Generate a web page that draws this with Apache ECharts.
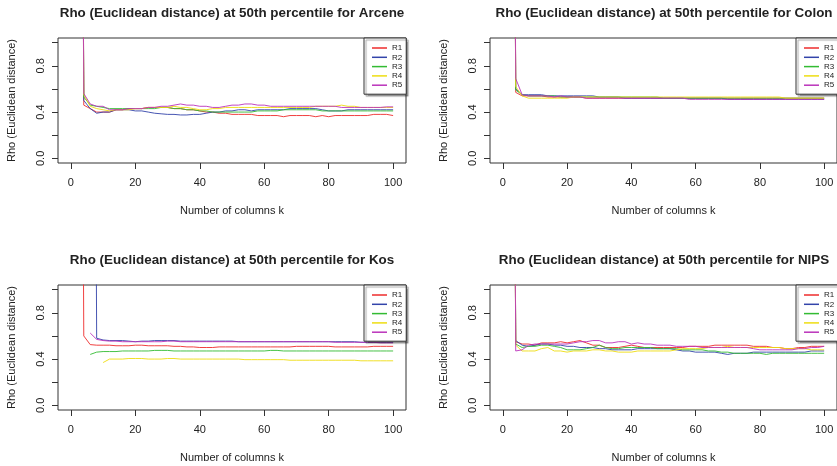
<!DOCTYPE html>
<html>
<head>
<meta charset="utf-8">
<script src="https://cdn.jsdelivr.net/npm/echarts@6/dist/echarts.min.js"></script>
<style>
html,body{margin:0;padding:0;background:#fff;}
#c{width:837px;height:466px;}
</style>
</head>
<body>
<div id="c"></div>
<script>
// Number of columns k
const K = [2,4,6,8,10,12,14,16,18,20,
           22,24,26,28,30,32,34,36,38,40,
           42,44,46,48,50,52,54,56,58,60,
           62,64,66,68,70,72,74,76,78,80,
           82,84,86,88,90,92,94,96,98,100];

const seriesNames = ['R1','R2','R3','R4','R5'];
const panelTitles = [
  'Rho (Euclidean distance) at 50th percentile for Arcene',
  'Rho (Euclidean distance) at 50th percentile for Colon',
  'Rho (Euclidean distance) at 50th percentile for Kos',
  'Rho (Euclidean distance) at 50th percentile for NIPS'
];
const xTicks = [0,20,40,60,80,100];
const yTicks = [0,0.2,0.4,0.6,0.8,1.0];
const yTickLabels = [0,0.4,0.8];

// ---- Arcene ----
const arceneR1 = [12,.46,.43,.40,.40,.40,.42,.42,.43,.43, .43,.44,.44,.44,.44,.43,.43,.42,.42,.41, .40,.40,.39,.39,.38,.38,.38,.38,.37,.37, .37,.37,.36,.37,.37,.37,.37,.36,.37,.36, .37,.37,.37,.37,.37,.37,.38,.38,.38,.37];
const arceneR2 = [12,.50,.43,.39,.40,.40,.42,.42,.42,.41, .41,.40,.39,.385,.38,.38,.375,.375,.38,.38, .39,.40,.40,.41,.41,.42,.42,.41,.42,.42, .42,.42,.42,.43,.43,.43,.43,.43,.42,.41, .41,.41,.42,.42,.42,.42,.42,.42,.42,.42];
const arceneR3 = [12,.53,.46,.45,.44,.43,.43,.43,.43,.43, .43,.43,.43,.44,.44,.43,.43,.42,.42,.41, .41,.40,.40,.40,.40,.40,.40,.40,.41,.41, .41,.41,.42,.42,.42,.42,.42,.42,.41,.41, .41,.41,.41,.41,.41,.41,.41,.41,.41,.41];
const arceneR4 = [12,.55,.45,.43,.42,.41,.42,.42,.42,.43, .43,.44,.44,.44,.44,.45,.44,.44,.43,.42, .42,.43,.43,.44,.44,.44,.44,.44,.44,.44, .44,.44,.44,.44,.44,.44,.44,.45,.45,.45, .45,.46,.45,.45,.44,.44,.44,.44,.44,.44];
const arceneR5 = [12,.56,.47,.45,.45,.42,.42,.42,.43,.43, .43,.44,.44,.45,.45,.46,.47,.46,.46,.45, .45,.44,.44,.45,.46,.46,.47,.47,.46,.46, .45,.45,.45,.45,.45,.45,.45,.45,.45,.45, .45,.44,.44,.44,.44,.44,.44,.44,.445,.445];

// ---- Colon ----
const colonR1 = [12,.57,.54,.54,.54,.54,.53,.53,.53,.53, .53,.53,.52,.52,.52,.52,.52,.52,.52,.52, .52,.52,.52,.52,.52,.52,.52,.52,.52,.52, .52,.52,.52,.52,.52,.52,.52,.52,.52,.52, .52,.52,.52,.52,.52,.52,.52,.52,.52,.52];
const colonR2 = [12,.60,.55,.55,.55,.55,.54,.54,.54,.54, .54,.54,.54,.54,.53,.53,.53,.53,.52,.52, .52,.52,.52,.52,.52,.52,.52,.52,.52,.52, .52,.52,.52,.52,.51,.51,.51,.51,.51,.51, .51,.51,.51,.51,.51,.51,.51,.51,.51,.51];
const colonR3 = [12,.59,.55,.54,.54,.54,.54,.54,.53,.53, .53,.53,.53,.53,.53,.53,.53,.53,.53,.53, .53,.53,.53,.53,.52,.52,.52,.52,.52,.52, .52,.52,.52,.52,.52,.52,.52,.52,.52,.52, .52,.52,.52,.52,.52,.52,.52,.52,.52,.52];
const colonR4 = [12,.62,.54,.52,.52,.52,.52,.52,.52,.52, .53,.53,.53,.53,.53,.53,.53,.53,.53,.53, .53,.53,.53,.53,.53,.53,.53,.53,.53,.53, .53,.53,.53,.53,.53,.53,.53,.53,.53,.53, .53,.53,.53,.52,.52,.52,.52,.52,.52,.52];
const colonR5 = [12,.69,.55,.54,.54,.54,.54,.53,.54,.53, .53,.53,.52,.52,.52,.52,.52,.52,.52,.52, .52,.52,.52,.52,.52,.52,.52,.52,.51,.51, .51,.51,.51,.51,.51,.51,.51,.51,.51,.51, .51,.51,.51,.51,.51,.51,.51,.51,.51,.51];

// ---- Kos ----
const kosR1 = [12,.60,.525,.52,.52,.52,.515,.515,.515,.52, .52,.515,.515,.515,.515,.51,.51,.505,.505,.50, .50,.50,.505,.505,.505,.505,.505,.505,.505,.505, .505,.505,.505,.505,.51,.51,.51,.51,.51,.51, .505,.505,.505,.505,.505,.505,.51,.51,.51,.51];
const kosR2 = [null,null,12,.58,.565,.56,.56,.56,.555,.55, .555,.555,.56,.56,.56,.56,.555,.555,.555,.555, .555,.555,.555,.555,.555,.55,.55,.55,.55,.55, .55,.55,.55,.55,.55,.55,.55,.55,.55,.55, .55,.55,.55,.55,.545,.545,.545,.545,.545,.545];
const kosR3 = [null,null,.44,.46,.465,.465,.465,.47,.47,.47, .47,.47,.475,.475,.475,.47,.47,.47,.47,.47, .47,.47,.47,.47,.47,.47,.47,.47,.47,.47, .475,.475,.47,.47,.47,.47,.47,.47,.47,.47, .47,.47,.47,.47,.47,.47,.47,.47,.47,.47];
const kosR4 = [null,null,null,null,.37,.40,.40,.40,.405,.405, .405,.40,.40,.40,.405,.405,.40,.40,.40,.40, .40,.40,.40,.40,.40,.40,.395,.395,.395,.395, .395,.395,.395,.39,.39,.39,.39,.39,.39,.39, .39,.39,.39,.39,.385,.385,.385,.385,.385,.385];
const kosR5 = [null,null,.625,.57,.56,.555,.555,.55,.55,.55, .55,.55,.55,.55,.555,.555,.55,.55,.55,.55, .55,.55,.55,.55,.55,.55,.55,.55,.55,.55, .55,.55,.55,.55,.55,.55,.55,.55,.55,.55, .545,.545,.545,.545,.545,.545,.545,.54,.54,.54];

// ---- NIPS ----
const nipsR1 = [12,.55,.53,.53,.52,.54,.54,.54,.55,.54, .55,.56,.54,.52,.52,.50,.50,.50,.51,.52, .51,.50,.50,.50,.50,.50,.50,.50,.51,.51, .51,.51,.52,.52,.52,.52,.52,.52,.51,.51, .51,.50,.50,.49,.49,.50,.50,.51,.51,.51];
const nipsR2 = [12,.56,.52,.51,.52,.53,.53,.52,.52,.51, .51,.50,.50,.50,.49,.49,.48,.48,.48,.48, .49,.49,.49,.49,.49,.49,.48,.47,.47,.46, .46,.46,.46,.45,.44,.45,.45,.45,.46,.46, .46,.46,.46,.46,.46,.46,.46,.47,.47,.47];
const nipsR3 = [12,.53,.50,.51,.51,.52,.52,.51,.50,.48, .48,.48,.49,.50,.52,.50,.49,.49,.50,.50, .50,.50,.50,.49,.49,.49,.49,.48,.48,.48, .48,.47,.47,.46,.46,.45,.45,.45,.45,.45, .44,.45,.45,.45,.45,.45,.45,.45,.45,.45];
const nipsR4 = [12,.52,.47,.47,.47,.49,.50,.47,.47,.46, .47,.47,.47,.48,.48,.47,.47,.46,.46,.46, .47,.47,.47,.47,.47,.47,.48,.49,.49,.49, .49,.50,.50,.50,.51,.50,.50,.50,.50,.50, .50,.50,.50,.49,.49,.49,.49,.48,.48,.48];
const nipsR5 = [12,.47,.48,.52,.53,.53,.53,.53,.53,.53, .54,.55,.55,.56,.56,.54,.54,.55,.55,.53, .54,.53,.53,.52,.52,.52,.51,.51,.51,.51, .50,.50,.50,.50,.50,.50,.50,.50,.49,.48, .48,.48,.48,.48,.48,.49,.49,.50,.50,.51];

const panels = [
  [arceneR1, arceneR2, arceneR3, arceneR4, arceneR5],
  [colonR1, colonR2, colonR3, colonR4, colonR5],
  [kosR1, kosR2, kosR3, kosR4, kosR5],
  [nipsR1, nipsR2, nipsR3, nipsR4, nipsR5]
];

const colors = ['#EE2C2C','#3344AA','#33BB33','#EEDD11','#BB33BB'];
const FONT = '"Liberation Sans", Arial, Helvetica, sans-serif';
const TXT = '#222';

// layout: 2x2 panels of 432 x 247
const PW = 432, PH = 247;
const GL = 58, GT = 38, GW = 348, GH = 125;

const grids = [], xAxes = [], yAxes = [], titles = [], legends = [], series = [];
for (let p = 0; p < 4; p++) {
  const ox = (p % 2) * PW, oy = Math.floor(p / 2) * PH;
  grids.push({left: ox + GL, top: oy + GT, width: GW, height: GH,
    show: true, borderColor: '#333', borderWidth: 1, backgroundColor: '#fff', containLabel: false});
  titles.push({text: panelTitles[p], left: ox + GL + GW / 2 - 5, top: oy + 2, textAlign: 'center',
    textStyle: {fontFamily: FONT, fontSize: 13.4, fontWeight: 'bold', color: TXT}});
  xAxes.push({type: 'value', gridIndex: p, min: -4, max: 104, position: 'bottom',
    name: 'Number of columns k', nameLocation: 'middle', nameGap: 42, nameMoveOverlap: false,
    nameTextStyle: {fontFamily: FONT, fontSize: 11, color: TXT},
    axisLine: {show: false, onZero: false}, splitLine: {show: false},
    axisTick: {show: true, inside: false, length: 6, lineStyle: {color: '#333'}, customValues: xTicks},
    axisLabel: {show: true, margin: 14, fontFamily: FONT, fontSize: 11, color: TXT, customValues: xTicks,
      formatter: v => String(v)}
  });
  yAxes.push({type: 'value', gridIndex: p, min: -0.04, max: 1.04, position: 'left',
    name: 'Rho (Euclidean distance)', nameLocation: 'middle', nameGap: 41, nameRotate: 90, nameMoveOverlap: false,
    nameTextStyle: {fontFamily: FONT, fontSize: 11, color: TXT},
    axisLine: {show: false, onZero: false}, splitLine: {show: false},
    axisTick: {show: true, inside: false, length: 6, lineStyle: {color: '#333'}, customValues: yTicks},
    axisLabel: {show: true, rotate: 90, margin: 12, fontFamily: FONT, fontSize: 11, color: TXT,
      customValues: yTickLabels, formatter: v => v.toFixed(1)}
  });
  legends.push({
    data: seriesNames, orient: 'vertical', left: ox + GL + GW - 42, top: oy + GT,
    icon: 'rect', itemWidth: 15, itemHeight: 1.5, itemGap: 1.3,
    padding: [6, 4, 5, 8], selectedMode: false,
    backgroundColor: '#fff', borderColor: '#333', borderWidth: 1, borderRadius: 0,
    shadowColor: 'rgba(0,0,0,0.35)', shadowOffsetX: 2, shadowOffsetY: 2, shadowBlur: 1,
    textStyle: {fontFamily: FONT, fontSize: 8, lineHeight: 8, color: TXT, padding: [0, 0, 0, 0]}
  });
  panels[p].forEach((vals, r) => {
    const data = [];
    K.forEach((k, i) => { if (vals[i] !== null) data.push([k, vals[i]]); });
    series.push({type: 'line', name: seriesNames[r], xAxisIndex: p, yAxisIndex: p,
      data: data, symbol: 'none', showSymbol: false, clip: true, silent: true,
      lineStyle: {width: 1, color: colors[r], opacity: 0.9},
      itemStyle: {color: colors[r]}, emphasis: {disabled: true}});
  });
}

const chart = echarts.init(document.getElementById('c'), null, {renderer: 'canvas'});
chart.setOption({
  animation: false, backgroundColor: '#fff',
  title: titles, grid: grids, xAxis: xAxes, yAxis: yAxes, legend: legends, series: series
});
</script>
</body>
</html>
